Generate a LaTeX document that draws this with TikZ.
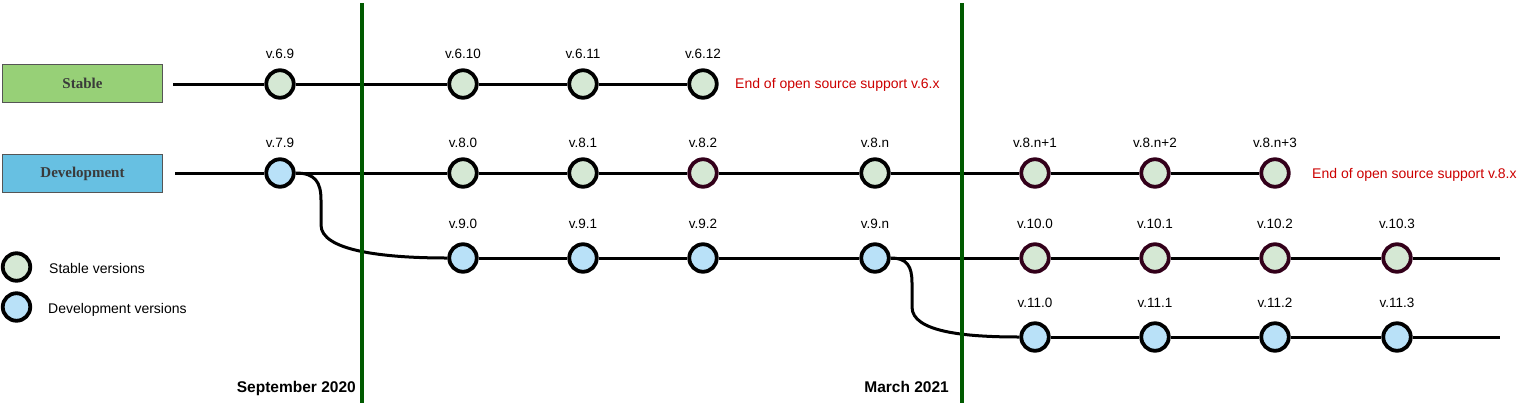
\documentclass[tikz,border=0pt]{standalone}
\usepackage{fontspec}
\setmainfont{Liberation Sans}
\newfontfamily\boxfont{Liberation Serif}
\usepackage{tikz}
\definecolor{stablefill}{HTML}{D5E8D4}
\definecolor{devfill}{HTML}{B9E1F8}
\definecolor{darkrim}{HTML}{33001A}
\definecolor{stablebox}{HTML}{97D077}
\definecolor{devbox}{HTML}{67C0E2}
\definecolor{boxrim}{HTML}{555555}
\definecolor{boxtext}{HTML}{3A3A3A}
\definecolor{cutgreen}{HTML}{005A00}
\definecolor{notered}{HTML}{CC0000}
\tikzstyle{stable}=[circle, draw=black, fill=stablefill, line width=3.8pt, minimum size=27.5pt, inner sep=0pt]
\tikzstyle{stabledark}=[stable, draw=darkrim]
\tikzstyle{dev}=[circle, draw=black, fill=devfill, line width=3.8pt, minimum size=27.5pt, inner sep=0pt]
\tikzstyle{version}=[font=\fontsize{13.5}{16}\selectfont, inner sep=0pt, text height=9.7pt, text depth=0pt, yshift=10pt]
\tikzstyle{versionlow}=[version, yshift=4pt]
\tikzstyle{branch}=[rectangle, draw=boxrim, line width=1.5pt, minimum width=160pt, minimum height=38pt, text=boxtext, font=\boxfont\bfseries\fontsize{15}{18}\selectfont]
\tikzstyle{note}=[text=notered, inner sep=0pt, anchor=base west, font=\fontsize{14}{16}\selectfont]
\tikzstyle{legend}=[inner sep=0pt, anchor=base west, font=\fontsize{14}{16}\selectfont]
\tikzstyle{date}=[inner sep=0pt, anchor=base east, font=\bfseries\fontsize{15.5}{18}\selectfont]
\tikzstyle{track}=[draw=black, line width=3pt]
\tikzstyle{cutoff}=[draw=cutgreen, line width=3.5pt]

\begin{document}
\begin{tikzpicture}[x=1pt, y=-1pt]
		   \useasboundingbox (0,0) rectangle (1523,405);
		   % branch boxes
		   \node (stablebox) at (82.5, 83.5)[branch, fill=stablebox] {Stable};
		   \node (devbox) at (82.5, 173.5)[branch, fill=devbox] {Development};
		   \begin{scope}
			   % stable line
			   \coordinate (s0) at (173, 84);
			   \node (v69) at (280, 84)[stable, label={[version]above:v.6.9}] {};
			   \node (v610) at (463, 84)[stable, label={[version]above:v.6.10}] {};
			   \node (v611) at (583, 84)[stable, label={[version]above:v.6.11}] {};
			   \node (v612) at (703, 84)[stable, label={[version]above:v.6.12}] {};
			   % development line
			   \coordinate (d0) at (175, 173);
			   \node (v79) at (280, 173)[dev, label={[version]above:v.7.9}] {};
			   \node (v80) at (463, 173)[stable, label={[version]above:v.8.0}] {};
			   \node (v81) at (583, 173)[stable, label={[version]above:v.8.1}] {};
			   \node (v82) at (703, 173)[stabledark, label={[version]above:v.8.2}] {};
			   \node (v8n) at (875, 173)[stable, label={[version]above:v.8.n}] {};
			   \node (v8n1) at (1035, 173)[stabledark, label={[version]above:v.8.n+1}] {};
			   \node (v8n2) at (1155, 173)[stabledark, label={[version]above:v.8.n+2}] {};
			   \node (v8n3) at (1275, 173)[stabledark, label={[version]above:v.8.n+3}] {};
			   % v.9 / v.10 line
			   \node (v90) at (463, 258)[dev, label={[versionlow]above:v.9.0}] {};
			   \node (v91) at (583, 258)[dev, label={[versionlow]above:v.9.1}] {};
			   \node (v92) at (703, 258)[dev, label={[versionlow]above:v.9.2}] {};
			   \node (v9n) at (875, 258)[dev, label={[versionlow]above:v.9.n}] {};
			   \node (v100) at (1035, 258)[stabledark, label={[versionlow]above:v.10.0}] {};
			   \node (v101) at (1155, 258)[stabledark, label={[versionlow]above:v.10.1}] {};
			   \node (v102) at (1275, 258)[stabledark, label={[versionlow]above:v.10.2}] {};
			   \node (v103) at (1397, 258)[stabledark, label={[versionlow]above:v.10.3}] {};
			   \coordinate (r3) at (1500, 258);
			   % v.11 line
			   \node (v110) at (1035, 337)[dev, label={[versionlow]above:v.11.0}] {};
			   \node (v111) at (1155, 337)[dev, label={[versionlow]above:v.11.1}] {};
			   \node (v112) at (1275, 337)[dev, label={[versionlow]above:v.11.2}] {};
			   \node (v113) at (1397, 337)[dev, label={[versionlow]above:v.11.3}] {};
			   \coordinate (r4) at (1500, 337);
		   \end{scope}
		   \begin{scope}
			   \path [track] (s0) edge (v69);
			   \path [track] (v69) edge (v610);
			   \path [track] (v610) edge (v611);
			   \path [track] (v611) edge (v612);
			   \path [track] (d0) edge (v79);
			   \path [track] (v79) edge (v80);
			   \path [track] (v80) edge (v81);
			   \path [track] (v81) edge (v82);
			   \path [track] (v82) edge (v8n);
			   \path [track] (v8n) edge (v8n1);
			   \path [track] (v8n1) edge (v8n2);
			   \path [track] (v8n2) edge (v8n3);
			   \path [track] (v90) edge (v91);
			   \path [track] (v91) edge (v92);
			   \path [track] (v92) edge (v9n);
			   \path [track] (v9n) edge (v100);
			   \path [track] (v100) edge (v101);
			   \path [track] (v101) edge (v102);
			   \path [track] (v102) edge (v103);
			   \path [track] (v103) edge (r3);
			   \path [track] (v110) edge (v111);
			   \path [track] (v111) edge (v112);
			   \path [track] (v112) edge (v113);
			   \path [track] (v113) edge (r4);
			   % branching off
			   \draw [track] (v79.east) .. controls (315, 173) and (321, 182) .. (321, 200) -- (321, 225) .. controls (321, 250) and (380, 258) .. (v90.west);
			   \draw [track] (v9n.east) .. controls (907, 258) and (912, 266) .. (912, 283) -- (912, 307) .. controls (912, 332) and (965, 337) .. (v110.west);
		   \end{scope}
		   % release dates
		   \coordinate (sep1a) at (362, 3);
		   \coordinate (sep1b) at (362, 403);
		   \coordinate (sep2a) at (962, 3);
		   \coordinate (sep2b) at (962, 403);
		   \draw [cutoff] (sep1a) -- (sep1b);
		   \draw [cutoff] (sep2a) -- (sep2b);
		   \node (sept) at (356, 392)[date] {September 2020};
		   \node (march) at (949, 392)[date] {March 2021};
		   % end of support
		   \node (eos6) at (735, 88.5)[note] {End of open source support v.6.x};
		   \node (eos8) at (1312, 178.5)[note] {End of open source support v.8.x};
		   % legend
		   \node (legstable) at (16.5, 267)[stable] {};
		   \node (legdev) at (16.5, 307)[dev] {};
		   \node (legstabletext) at (49, 273)[legend] {Stable versions};
		   \node (legdevtext) at (48, 313)[legend] {Development versions};
	   \end{tikzpicture}
\end{document}
